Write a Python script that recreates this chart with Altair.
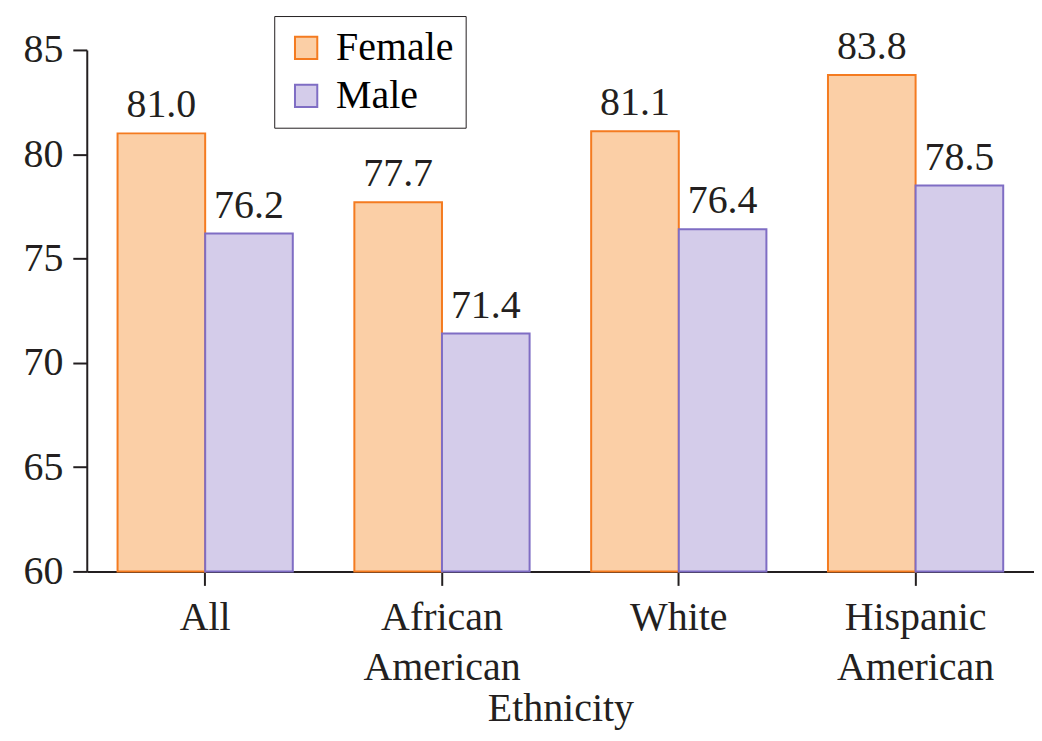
import altair as alt
import pandas as pd

categories = ["All", "African American", "White", "Hispanic American"]
female = [81.0, 77.7, 81.1, 83.8]
male = [76.2, 71.4, 76.4, 78.5]
genders = ["Female", "Male"]

rows = []
for c, f, m in zip(categories, female, male):
    rows.append({"Ethnicity": c, "Gender": "Female", "Value": f})
    rows.append({"Ethnicity": c, "Gender": "Male", "Value": m})
df = pd.DataFrame(rows)

FONT = "Liberation Serif"
FS = 40
fill_scale = alt.Scale(domain=genders, range=["#FBCFA6", "#D4CCEA"])
stroke_scale = alt.Scale(domain=genders, range=["#F47B20", "#7F6DC4"])
y_scale = alt.Scale(domain=[60, 85], zero=False, nice=False, clamp=True)

x = alt.X("Ethnicity:N", sort=categories, title="Ethnicity",
          scale=alt.Scale(paddingInner=0.26, paddingOuter=0.13),
          axis=alt.Axis(labelAngle=0,
                        labelExpr="split(datum.label, ' ')",
                        labelLineHeight=50, labelPadding=12,
                        titlePadding=2, tickSize=14))

base = alt.Chart(df).encode(
    x=x,
    xOffset=alt.XOffset("Gender:N", sort=genders),
)

bars = base.mark_bar(strokeWidth=2).encode(
    y=alt.Y("Value:Q", scale=y_scale, title=None,
            axis=alt.Axis(values=[60, 65, 70, 75, 80, 85], tickSize=14,
                          labelPadding=10, grid=False)),
    y2=alt.datum(60),
    color=alt.Color("Gender:N", scale=fill_scale, sort=genders,
                    legend=alt.Legend(title=None, orient="none", legendX=188, legendY=-34,
                                      symbolType="square", symbolSize=500,
                                      symbolStrokeWidth=2, labelFontSize=FS,
                                      labelFont=FONT, rowPadding=8, padding=12,
                                      labelOffset=10,
                                      strokeColor="#231F20", fillColor="white",
                                      labelLimit=300, symbolOpacity=1)),
    stroke=alt.Stroke("Gender:N", scale=stroke_scale, sort=genders, legend=None),
)

labels = base.mark_text(baseline="bottom", dy=-8, fontSize=FS, font=FONT,
                        color="#231F20").encode(
    y=alt.Y("Value:Q", scale=y_scale),
    text=alt.Text("Value:Q", format=".1f"),
)

chart = alt.layer(bars, labels).properties(
    width=950, height=523,
    autosize=alt.AutoSizeParams(type="none"),
    padding={"left": 79, "top": 41, "right": 0, "bottom": 161},
).configure_view(stroke=None).configure_axis(
    labelFont=FONT, titleFont=FONT, labelFontSize=FS, titleFontSize=FS,
    titleFontWeight="normal", labelColor="#231F20", titleColor="#231F20",
    domainColor="#231F20", tickColor="#231F20", domainWidth=2, tickWidth=2,
)

chart.save("out.html", embed_options={"renderer": "svg", "actions": False})
